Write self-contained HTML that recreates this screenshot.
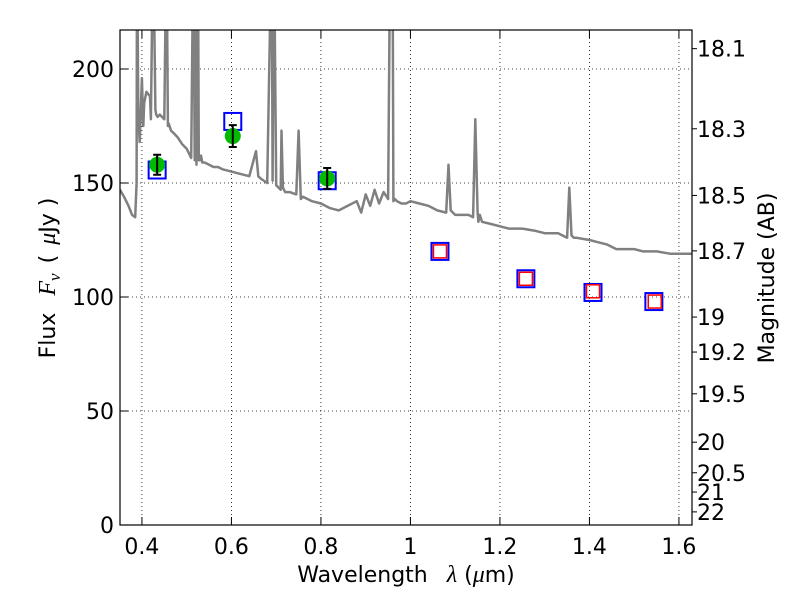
<!DOCTYPE html>
<html><head><meta charset="utf-8"><style>
body{margin:0;background:#fff}
svg text{font-family:"DejaVu Sans","Liberation Sans",sans-serif;fill:#000}
.m{font-family:"Liberation Serif",serif;font-style:italic}
</style></head><body>
<svg id="chart" width="800" height="600" viewBox="0 0 800 600" xmlns="http://www.w3.org/2000/svg">
<defs><clipPath id="clip"><rect x="120" y="30" width="572" height="495"/></clipPath></defs>
<g id="grid"></g>
<g id="plot" clip-path="url(#clip)"></g>
<rect x="120" y="30" width="572" height="495" fill="none" stroke="#000" stroke-width="1.2"/>
<g id="ticks"></g>
<text x="406" y="582" font-size="22" text-anchor="middle">Wavelength <tspan class="m" font-size="24" dx="12">λ</tspan> (<tspan class="m" font-size="24">μ</tspan>m)</text>
<text transform="translate(55,278) rotate(-90)" font-size="22" text-anchor="middle">Flux <tspan class="m" font-size="24" dx="10">F</tspan><tspan class="m" font-size="17" dy="5">ν</tspan><tspan dy="-5" dx="10">(</tspan><tspan dx="10" class="m" font-size="24">μ</tspan>Jy )</text>
<text transform="translate(774,278) rotate(-90)" font-size="22" text-anchor="middle">Magnitude (AB)</text>
</svg>
<script>
const specLam=[0.351,0.36,0.37,0.378,0.385,0.388,0.389,0.392,0.395,0.40,0.403,0.405,0.41,0.418,0.42,0.425,0.43,0.432,0.435,0.44,0.45,0.455,0.458,0.46,0.465,0.47,0.48,0.49,0.50,0.51,0.515,0.518,0.52,0.522,0.525,0.527,0.53,0.532,0.535,0.54,0.55,0.56,0.57,0.58,0.60,0.62,0.64,0.655,0.66,0.665,0.68,0.69,0.692,0.695,0.70,0.71,0.712,0.715,0.72,0.73,0.745,0.75,0.755,0.76,0.78,0.80,0.82,0.84,0.86,0.88,0.89,0.90,0.91,0.92,0.93,0.94,0.95,0.955,0.96,0.962,0.965,0.97,0.98,0.99,1.00,1.02,1.04,1.06,1.08,1.085,1.09,1.095,1.10,1.13,1.14,1.145,1.15,1.152,1.155,1.16,1.18,1.20,1.22,1.25,1.28,1.30,1.33,1.35,1.355,1.36,1.365,1.37,1.40,1.42,1.44,1.46,1.48,1.50,1.52,1.55,1.58,1.60,1.63];
const specFlux=[147,144,140,136,135,150,260,180,168,196,175,185,190,188,178,260,182,180,179,180,178,260,175,176,173,172,170,167,165,161,260,160,260,158,260,160,160,162,159,159,158,157,157,156,155,154,153,164,153,152,150,260,151,260,149,147,173,148,146,146,145,173,143,144,142,141,139,138,140,142,137,145,140,147,141,146,143,260,260,142,143,142,141,141,142,141,140,138,137,158,138,137,136,136,135,178,137,133,136,133,132,131,130,130,129,128,128,126,148,127,126,126,125,124,123,121,121,121,120,120,119,119,119];
const phLam=[0.434,0.603,0.814];
const phFlux=[158,170.6,152];
const phErr=[4.4,4.8,4.6];
const modelLam=[0.434,0.603,0.814,1.066,1.258,1.408,1.544];
const modelFlux=[155.7,177,151,120,108,102,98];
const nirLam=[1.066,1.258,1.408,1.546];
const nirFlux=[120,108,102.5,98];
const xTicks=[0.4,0.6,0.8,1,1.2,1.4,1.6];
const xTickLabels=["0.4","0.6","0.8","1","1.2","1.4","1.6"];
const yTicks=[0,50,100,150,200];
const magTicks=[18.1,18.3,18.5,18.7,19,19.2,19.5,20,20.5,21,22];

const X=l=>120+(l-0.351)*447.5;
const Y=f=>525-f*2.28;
const NS="http://www.w3.org/2000/svg";
function mk(parent,tag,attrs){const e=document.createElementNS(NS,tag);for(const k in attrs)e.setAttribute(k,attrs[k]);document.getElementById(parent).appendChild(e);return e;}

xTicks.forEach((t,i)=>{
  const x=X(t);
  const g=mk('grid','line',{x1:x,x2:x,y1:30,y2:525,stroke:'#000','stroke-width':0.8,'stroke-dasharray':'1,3'});
  
  
  const a=mk('ticks','line',{x1:x,x2:x,y1:525,y2:517,stroke:'#000'});
  
  
  const b=mk('ticks','line',{x1:x,x2:x,y1:30,y2:38,stroke:'#000'});
  
  
  const tx=mk('ticks','text',{x:x,y:554,'font-size':22,'text-anchor':'middle'});
  tx.textContent=xTickLabels[i];
  
  
});
yTicks.forEach(t=>{
  const y=Y(t);
  const g=mk('grid','line',{x1:120,x2:692,y1:y,y2:y,stroke:'#000','stroke-width':0.8,'stroke-dasharray':'1,3'});
  
  
  const a=mk('ticks','line',{x1:120,x2:128,y1:y,y2:y,stroke:'#000'});
  
  
  const tx=mk('ticks','text',{x:114,y:y+8,'font-size':22,'text-anchor':'end'});
  tx.textContent=String(t);
  
  
});
magTicks.forEach(m=>{
  const f=Math.pow(10,(23.9-m)/2.5);
  const y=Y(f);
  const a=mk('ticks','line',{x1:692,x2:697,y1:y,y2:y,stroke:'#000'});
  
  
  const tx=mk('ticks','text',{x:697,y:y+8,'font-size':22});
  tx.textContent=String(m);
  
  
});
const pts=specLam.map((l,i)=>X(l).toFixed(1)+','+Y(specFlux[i]).toFixed(1)).join(' ');
const sp=mk('plot','polyline',{points:pts,fill:'none',stroke:'#808080','stroke-width':2.5,'stroke-linejoin':'round'});


modelLam.forEach((l,i)=>{
  const r=mk('plot','rect',{x:X(l)-8.5,y:Y(modelFlux[i])-8.5,width:17,height:17,fill:'none',stroke:'#0000ff','stroke-width':2});
  
  
});
nirLam.forEach((l,i)=>{
  const r=mk('plot','rect',{x:X(l)-6.5,y:Y(nirFlux[i])-6.5,width:13,height:13,fill:'none',stroke:'#ff0000','stroke-width':1.5});
  
  
});
phLam.forEach((l,i)=>{
  const x=X(l),y=Y(phFlux[i]);
  const c=mk('plot','circle',{cx:x,cy:y,r:8,fill:'#00bb00'});
  
  
  const y1=Y(phFlux[i]+phErr[i]),y2=Y(phFlux[i]-phErr[i]);
  const e=mk('plot','path',{d:`M${x},${y1}V${y2}M${x-4},${y1}H${x+4}M${x-4},${y2}H${x+4}`,stroke:'#000','stroke-width':2,fill:'none'});
  
  
});
</script>
</body></html>
